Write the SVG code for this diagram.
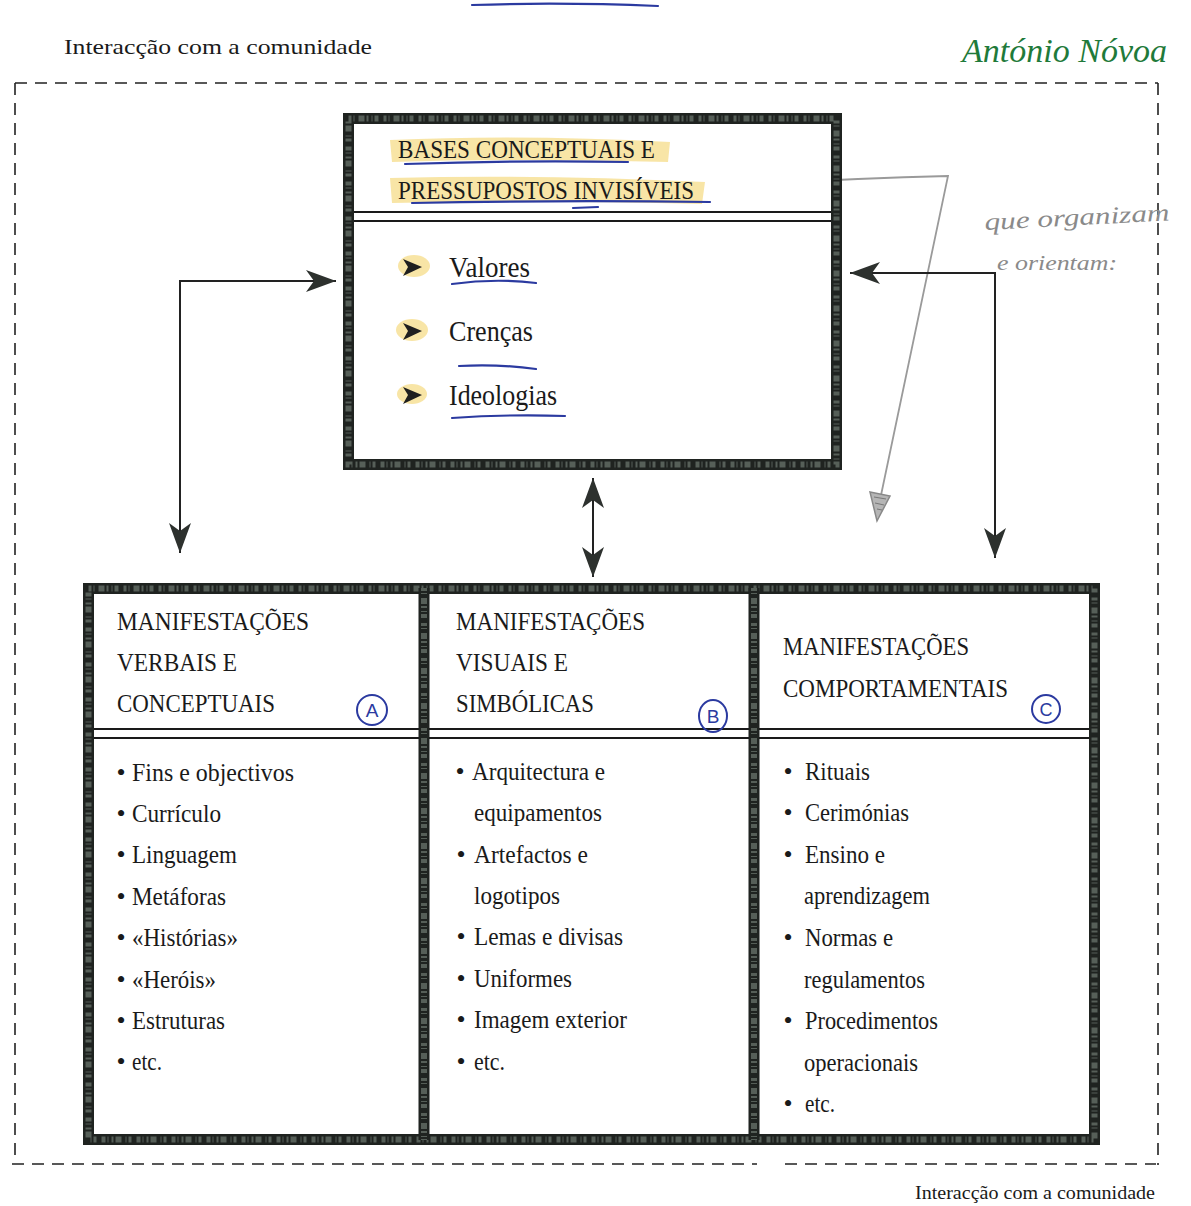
<svg xmlns="http://www.w3.org/2000/svg" width="1191" height="1206" viewBox="0 0 1191 1206">
<style>
  .t { font-family: "Liberation Serif", "Times New Roman", serif; fill: #1a1a1a; }
  .hd { font-size: 26px; }
  .it { font-size: 26px; }
  .tp { font-size: 30px; }
  .bul { text-anchor: middle; }
  .brd { fill: none; stroke: #1f2320; stroke-width: 11; }
  .brdx { fill: none; stroke: #7b877f; stroke-width: 6; stroke-dasharray: 3 2 1 4 6 2 2 3 1 2 4 5; opacity: 0.6; }
  .dbl { stroke: #1a1a1a; stroke-width: 2; }
  .dash { fill: none; stroke: #222; stroke-width: 1.6; stroke-dasharray: 12 8; }
  .conn { fill: none; stroke: #222; stroke-width: 2; }
  .blue { fill: none; stroke: #2b3aa0; stroke-width: 2.2; stroke-linecap: round; }
  .hl { fill: #f3d36a; opacity: 0.6; }
  .pencil { fill: none; stroke: #9a9a9a; stroke-width: 1.8; }
  .hand { font-family: "Liberation Serif", "DejaVu Serif", serif; font-style: italic; }
</style>
<defs>
  <marker id="ah" viewBox="0 0 30 22" markerWidth="30" markerHeight="22" refX="30" refY="11" orient="auto-start-reverse" markerUnits="userSpaceOnUse">
    <path d="M0,0 L30,11 L0,22 L8,11 z" fill="#2d312e"/>
  </marker>
</defs>

<rect width="1191" height="1206" fill="#ffffff"/>

<!-- outer community frame -->
<g id="frame">
  <path class="dash" d="M15,83 L1158,83"/>
  <path class="dash" d="M15,83 L15,1163"/>
  <path class="dash" d="M1158,83 L1158,1165"/>
  <path class="dash" d="M12,1164 L757,1164"/>
  <path class="dash" d="M785,1164 L1156,1164"/>
  <text class="t" x="64" y="54" font-size="22" textLength="308" lengthAdjust="spacingAndGlyphs">Interacção com a comunidade</text>
  <text class="t" x="915" y="1199" font-size="19" textLength="240" lengthAdjust="spacingAndGlyphs">Interacção com a comunidade</text>
</g>

<!-- handwritten annotations -->
<g id="annotations">
  <path class="blue" d="M472,5 Q560,2 658,6"/>
  <text class="hand" x="962" y="62" font-size="34" fill="#1f7a3a" textLength="205" lengthAdjust="spacingAndGlyphs">António Nóvoa</text>
  <text class="hand" x="985" y="230" font-size="24" fill="#8a8a8a" textLength="185" lengthAdjust="spacingAndGlyphs" transform="rotate(-3 985 230)">que organizam</text>
  <text class="hand" x="997" y="270" font-size="22" fill="#8a8a8a" textLength="120" lengthAdjust="spacingAndGlyphs">e orientam:</text>
  <path class="pencil" d="M760,184 Q860,178 948,176 Q915,330 880,500"/>
  <path d="M870,492 L890,496 L877,521 z" fill="#b5b5b5" stroke="#888" stroke-width="1.5"/>
  <path d="M874,497 L886,499 M875,503 L884,505 M877,509 L882,510" stroke="#777" stroke-width="1"/>
</g>

<!-- connectors -->
<g id="connectors">
  <path class="conn" d="M336,281 L180,281 L180,553" marker-start="url(#ah)" marker-end="url(#ah)"/>
  <path class="conn" d="M850,273 L995,273 L995,558" marker-start="url(#ah)" marker-end="url(#ah)"/>
  <path class="conn" d="M593,478 L593,577" marker-start="url(#ah)" marker-end="url(#ah)"/>
</g>

<!-- top node -->
<g id="node-bases">
  <rect x="348.5" y="118.5" width="488" height="346" fill="#ffffff"/>
  <rect class="brd" x="348.5" y="118.5" width="488" height="346"/>
  <rect class="brdx" x="348.5" y="118.5" width="488" height="346"/>
  <line class="dbl" x1="354" y1="212" x2="831" y2="212"/>
  <line class="dbl" x1="354" y1="221" x2="831" y2="221"/>
  <path class="hl" d="M390,140 Q520,134 670,142 L668,162 Q520,158 392,162 z"/>
  <path class="hl" d="M390,178 Q540,174 705,182 L702,204 Q540,200 392,203 z"/>
  <ellipse class="hl" cx="414" cy="266" rx="16" ry="11"/>
  <ellipse class="hl" cx="412" cy="330" rx="16" ry="11"/>
  <ellipse class="hl" cx="412" cy="394" rx="15" ry="10"/>
  <text class="t hd" x="398" y="158" textLength="257" lengthAdjust="spacingAndGlyphs">BASES CONCEPTUAIS E</text>
  <text class="t hd" x="398" y="199" textLength="296" lengthAdjust="spacingAndGlyphs">PRESSUPOSTOS INVISÍVEIS</text>
  <path class="blue" d="M405,164 Q520,160 628,162"/>
  <path class="blue" d="M412,203 Q560,200 710,202"/>
  <path class="blue" d="M573,208 L598,207"/>
  <path d="M403,259 L422,267 L403,276 L408,267 z" fill="#1f1f1f"/>
  <path d="M403,323 L422,331 L403,340 L408,331 z" fill="#1f1f1f"/>
  <path d="M403,387 L422,395 L403,404 L408,395 z" fill="#1f1f1f"/>
  <text class="t tp" x="449" y="277" textLength="81" lengthAdjust="spacingAndGlyphs">Valores</text>
  <text class="t tp" x="449" y="341" textLength="84" lengthAdjust="spacingAndGlyphs">Crenças</text>
  <text class="t tp" x="449" y="405" textLength="108" lengthAdjust="spacingAndGlyphs">Ideologias</text>
  <path class="blue" d="M452,284 Q495,278 536,283"/>
  <path class="blue" d="M459,366 Q500,364 536,369"/>
  <path class="blue" d="M452,418 Q510,414 565,416"/>
</g>

<!-- bottom container -->
<g id="node-manifestacoes">
  <rect x="88.5" y="588.5" width="1006" height="551" fill="#ffffff"/>
  <line class="dbl" x1="94" y1="729" x2="1094" y2="729"/>
  <line class="dbl" x1="94" y1="738" x2="1094" y2="738"/>
  <rect class="brd" x="88.5" y="588.5" width="1006" height="551"/>
  <rect class="brdx" x="88.5" y="588.5" width="1006" height="551"/>
  <line class="brd" x1="424" y1="588" x2="424" y2="1140"/>
  <line class="brdx" x1="424" y1="588" x2="424" y2="1140"/>
  <line class="brd" x1="754" y1="588" x2="754" y2="1140"/>
  <line class="brdx" x1="754" y1="588" x2="754" y2="1140"/>
</g>

<g id="node-verbais">
  <text class="t hd" x="117" y="630" textLength="192" lengthAdjust="spacingAndGlyphs">MANIFESTAÇÕES</text>
  <text class="t hd" x="117" y="671" textLength="120" lengthAdjust="spacingAndGlyphs">VERBAIS E</text>
  <text class="t hd" x="117" y="712" textLength="158" lengthAdjust="spacingAndGlyphs">CONCEPTUAIS</text>
  <circle cx="372" cy="710" r="15" fill="none" stroke="#2b3aa0" stroke-width="2"/>
  <text x="372" y="717" font-family="Liberation Sans, sans-serif" font-size="19" fill="#2b3aa0" text-anchor="middle">A</text>
  <g class="t it">
    <text class="bul" x="121" y="781">•</text>
    <text x="132" y="781" textLength="162" lengthAdjust="spacingAndGlyphs">Fins e objectivos</text>
    <text class="bul" x="121" y="822">•</text>
    <text x="132" y="822" textLength="89" lengthAdjust="spacingAndGlyphs">Currículo</text>
    <text class="bul" x="121" y="863">•</text>
    <text x="132" y="863" textLength="105" lengthAdjust="spacingAndGlyphs">Linguagem</text>
    <text class="bul" x="121" y="905">•</text>
    <text x="132" y="905" textLength="94" lengthAdjust="spacingAndGlyphs">Metáforas</text>
    <text class="bul" x="121" y="946">•</text>
    <text x="132" y="946" textLength="106" lengthAdjust="spacingAndGlyphs">«Histórias»</text>
    <text class="bul" x="121" y="988">•</text>
    <text x="132" y="988" textLength="84" lengthAdjust="spacingAndGlyphs">«Heróis»</text>
    <text class="bul" x="121" y="1029">•</text>
    <text x="132" y="1029" textLength="93" lengthAdjust="spacingAndGlyphs">Estruturas</text>
    <text class="bul" x="121" y="1070">•</text>
    <text x="132" y="1070" textLength="30" lengthAdjust="spacingAndGlyphs">etc.</text>
  </g>
</g>

<g id="node-visuais">
  <text class="t hd" x="456" y="630" textLength="189" lengthAdjust="spacingAndGlyphs">MANIFESTAÇÕES</text>
  <text class="t hd" x="456" y="671" textLength="112" lengthAdjust="spacingAndGlyphs">VISUAIS E</text>
  <text class="t hd" x="456" y="712" textLength="138" lengthAdjust="spacingAndGlyphs">SIMBÓLICAS</text>
  <ellipse cx="713" cy="716" rx="14" ry="16" fill="none" stroke="#2b3aa0" stroke-width="2"/>
  <text x="713" y="723" font-family="Liberation Sans, sans-serif" font-size="19" fill="#2b3aa0" text-anchor="middle">B</text>
  <g class="t it">
    <text class="bul" x="460" y="780">•</text>
    <text x="472" y="780" textLength="133" lengthAdjust="spacingAndGlyphs">Arquitectura e</text>
    <text x="474" y="821" textLength="128" lengthAdjust="spacingAndGlyphs">equipamentos</text>
    <text class="bul" x="461" y="863">•</text>
    <text x="474" y="863" textLength="114" lengthAdjust="spacingAndGlyphs">Artefactos e</text>
    <text x="474" y="904" textLength="86" lengthAdjust="spacingAndGlyphs">logotipos</text>
    <text class="bul" x="461" y="945">•</text>
    <text x="474" y="945" textLength="149" lengthAdjust="spacingAndGlyphs">Lemas e divisas</text>
    <text class="bul" x="461" y="987">•</text>
    <text x="474" y="987" textLength="98" lengthAdjust="spacingAndGlyphs">Uniformes</text>
    <text class="bul" x="461" y="1028">•</text>
    <text x="474" y="1028" textLength="153" lengthAdjust="spacingAndGlyphs">Imagem exterior</text>
    <text class="bul" x="461" y="1070">•</text>
    <text x="474" y="1070" textLength="31" lengthAdjust="spacingAndGlyphs">etc.</text>
  </g>
</g>

<g id="node-comportamentais">
  <text class="t hd" x="783" y="655" textLength="186" lengthAdjust="spacingAndGlyphs">MANIFESTAÇÕES</text>
  <text class="t hd" x="783" y="697" textLength="225" lengthAdjust="spacingAndGlyphs">COMPORTAMENTAIS</text>
  <circle cx="1046" cy="709" r="14" fill="none" stroke="#2b3aa0" stroke-width="2"/>
  <text x="1046" y="716" font-family="Liberation Sans, sans-serif" font-size="18" fill="#2b3aa0" text-anchor="middle">C</text>
  <g class="t it">
    <text class="bul" x="788" y="780">•</text>
    <text x="805" y="780" textLength="65" lengthAdjust="spacingAndGlyphs">Rituais</text>
    <text class="bul" x="788" y="821">•</text>
    <text x="805" y="821" textLength="104" lengthAdjust="spacingAndGlyphs">Cerimónias</text>
    <text class="bul" x="788" y="863">•</text>
    <text x="805" y="863" textLength="80" lengthAdjust="spacingAndGlyphs">Ensino e</text>
    <text x="804" y="904" textLength="126" lengthAdjust="spacingAndGlyphs">aprendizagem</text>
    <text class="bul" x="788" y="946">•</text>
    <text x="805" y="946" textLength="88" lengthAdjust="spacingAndGlyphs">Normas e</text>
    <text x="804" y="988" textLength="121" lengthAdjust="spacingAndGlyphs">regulamentos</text>
    <text class="bul" x="788" y="1029">•</text>
    <text x="805" y="1029" textLength="133" lengthAdjust="spacingAndGlyphs">Procedimentos</text>
    <text x="804" y="1071" textLength="114" lengthAdjust="spacingAndGlyphs">operacionais</text>
    <text class="bul" x="788" y="1112">•</text>
    <text x="805" y="1112" textLength="30" lengthAdjust="spacingAndGlyphs">etc.</text>
  </g>
</g>
</svg>
